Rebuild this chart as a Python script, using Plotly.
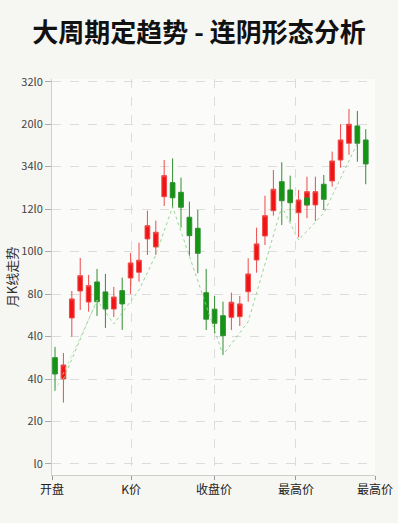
import plotly.graph_objects as go

# ---- data ----
idx = list(range(38))
opens = [100.1, 80.0, 137.5, 162.9, 152.5, 171.4, 162.0, 145.9, 163.2, 175.1,
         180.5, 211.9, 204.3, 251.7, 264.9, 255.8, 232.3, 221.9, 161.3, 145.7,
         139.6, 138.1, 138.7, 162.2, 192.1, 214.7, 238.5, 265.8, 258.0, 236.6,
         243.9, 243.9, 263.4, 266.5, 286.2, 302.0, 318.3, 305.1]
closes = [84.7, 93.2, 155.4, 177.3, 167.9, 152.8, 145.9, 157.2, 150.7, 189.3,
          191.8, 224.4, 218.2, 271.5, 250.7, 241.7, 215.0, 198.4, 136.3, 132.5,
          120.8, 152.3, 150.7, 178.9, 207.2, 233.8, 258.7, 247.9, 246.0, 248.6,
          256.4, 256.4, 249.2, 285.3, 305.1, 319.9, 302.0, 282.5]
highs = [110.2, 104.5, 162.9, 194.0, 178.0, 183.6, 178.9, 166.7, 175.4, 198.7,
         208.4, 238.5, 229.1, 286.2, 287.8, 269.6, 247.0, 239.2, 183.6, 158.2,
         152.8, 161.3, 158.2, 193.7, 222.5, 252.6, 276.8, 284.1, 271.5, 258.0,
         270.5, 270.5, 272.1, 294.1, 319.9, 334.3, 332.4, 315.2]
lows = [68.7, 57.8, 119.9, 145.0, 143.4, 139.4, 128.1, 138.4, 126.2, 160.1,
        171.7, 196.8, 196.8, 242.9, 240.8, 222.5, 196.1, 179.6, 126.2, 123.1,
        102.6, 126.2, 129.9, 152.8, 180.1, 206.2, 233.8, 225.0, 228.2, 213.5,
        231.4, 228.8, 239.2, 261.1, 279.0, 291.0, 284.6, 263.4]

# small green overlay on candle 31
ov_idx = [30]
ov_open = [250.5]
ov_close = [243.9]

# support trend line (through swing lows)
trend_x = [1, 5, 7, 10, 12, 14, 20, 23, 27, 29, 32, 36]
trend_y = [80.0, 154.4, 131.8, 163.8, 196.8, 242.3, 102.6, 134.0, 242.3, 210.9, 236.1, 302.0]
trend2_x = [0, 5]
trend2_y = [68.7, 152.8]

x_tickvals = [-0.36, 9.05, 18.93, 28.69, 38.1]
x_ticktext = ["开盘", "K价", "收盘价", "最高价", "最高价"]
y_tickvals = [0, 40, 80, 120, 160, 200, 240, 280, 320, 360]
y_ticktext = ["l0", "2l0", "4l0", "4l0", "8l0", "10l0", "12l0", "34l0", "20l0", "32l0"]

RED_FILL, RED_LINE = "#f01414", "#ee4a4a"
GRN_FILL, GRN_LINE = "#139413", "#2f8f2f"

fig = go.Figure()
fig.add_trace(go.Scatter(x=trend2_x, y=trend2_y, mode="lines",
                         line=dict(color="#b8e0b8", width=0.8, dash="dot"),
                         hoverinfo="skip", showlegend=False))
fig.add_trace(go.Scatter(x=trend_x, y=trend_y, mode="lines",
                         line=dict(color="#8fd08f", width=0.9, dash="dot"),
                         hoverinfo="skip", showlegend=False))
fig.add_trace(go.Candlestick(
    x=idx, open=opens, high=highs, low=lows, close=closes,
    increasing=dict(fillcolor=RED_FILL, line=dict(color=RED_LINE, width=1)),
    decreasing=dict(fillcolor=GRN_FILL, line=dict(color=GRN_LINE, width=1)),
    whiskerwidth=0, showlegend=False))
fig.add_trace(go.Candlestick(
    x=ov_idx, open=ov_open, high=ov_open, low=ov_close, close=ov_close,
    increasing=dict(fillcolor=GRN_FILL, line=dict(color=GRN_LINE, width=1)),
    decreasing=dict(fillcolor=GRN_FILL, line=dict(color=GRN_LINE, width=1)),
    whiskerwidth=0, showlegend=False))

fig.update_layout(
    width=398, height=523,
    margin=dict(l=52, r=23, t=79, b=48),
    paper_bgcolor="#f6f6f2",
    plot_bgcolor="#fbfbf9",
    boxgap=0.2,
    font=dict(family="Noto Sans CJK SC, Noto Sans, sans-serif", color="#333"),
    title=dict(text="<b>大周期定趋势 - 连阴形态分析</b>", x=0.5, xanchor="center",
               y=0.937, yanchor="middle",
               font=dict(size=26, color="#111", family="Noto Sans CJK SC")),
    xaxis=dict(range=[-0.36, 38.1], tickvals=x_tickvals, ticktext=x_ticktext,
               rangeslider=dict(visible=False), automargin=False,
               showgrid=True, gridcolor="#dcdcdc", griddash="dash", gridwidth=1,
               showline=True, linecolor="#cfcfcf", linewidth=1,
               ticks="outside", ticklen=4, tickcolor="#999",
               tickfont=dict(size=12, color="#222"), zeroline=False, fixedrange=True),
    yaxis=dict(range=[-10.4, 362.5], tickvals=y_tickvals, ticktext=y_ticktext,
               automargin=False,
               showgrid=True, gridcolor="#dcdcdc", griddash="dash", gridwidth=1,
               showline=True, linecolor="#cfcfcf", linewidth=1,
               ticks="outside", ticklen=6, tickcolor="#aaa",
               tickfont=dict(size=11, color="#444"), zeroline=False,
               title=dict(text="月K线走势", font=dict(size=13, color="#333"), standoff=0)),
)

fig.write_html("out.html")
